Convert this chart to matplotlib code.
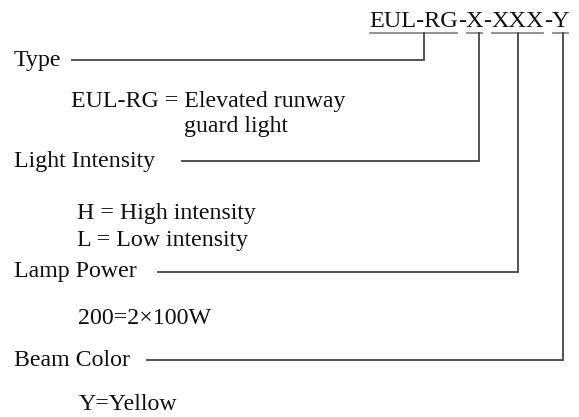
import matplotlib.pyplot as plt

# code segments of the part number, and which of them get a leader line
code_parts = ["EUL-RG", "-", "X", "-", "XXX", "-", "Y"]
field_parts = [0, 2, 4, 6]
field_titles = ["Type", "Light Intensity", "Lamp Power", "Beam Color"]
field_notes = [
    ["EUL-RG = Elevated runway", "guard light"],
    ["H = High intensity", "L = Low intensity"],
    ["200=2\u00d7100W"],
    ["Y=Yellow"],
]

# layout (pixels)
W, H = 579, 417
title_y = [60, 161, 272, 360]
title_x = 14
note_x = [[71, 184], [77, 77], [78], [79]]
note_y = [[101, 126], [213, 240], [318], [405]]
line_start = [72, 182, 158, 147]
anchor_frac = [0.62, 0.78, 0.5, 0.62]
code_x, code_base, ul_y = 369, 27, 33
line_col = "#444444"

plt.rcParams['font.family'] = ['Liberation Serif', 'DejaVu Serif']

fig = plt.figure(figsize=(W / 100, H / 100), dpi=100)
ax = fig.add_axes([0, 0, 1, 1])
ax.set_xlim(0, W)
ax.set_ylim(H, 0)
ax.axis('off')

r = fig.canvas.get_renderer()
inv = ax.transData.inverted()

# part number, drawn piece by piece so each piece can be measured
x = code_x
spans = []
for p in code_parts:
    t = ax.text(x, code_base, p, fontsize=17.5, va='baseline', ha='left', color='#111111')
    bb = t.get_window_extent(renderer=r)
    x0 = inv.transform((bb.x0, bb.y0))[0]
    x1 = inv.transform((bb.x1, bb.y0))[0]
    spans.append((x0, x1))
    x = x1

for i, k in enumerate(field_parts):
    x0, x1 = spans[k]
    ax.plot([x0 + 1, x1 - 1], [ul_y, ul_y], color="#8a8a8a", lw=1.3)
    ax_x = x0 + anchor_frac[i] * (x1 - x0)
    ax.plot([line_start[i], ax_x, ax_x], [title_y[i], title_y[i], ul_y],
            color=line_col, lw=1.3, solid_joinstyle='miter')

    ax.text(title_x, title_y[i], field_titles[i], fontsize=17.2, va='center', ha='left',
            color='#111111')
    for j, note in enumerate(field_notes[i]):
        ax.text(note_x[i][j], note_y[i][j], note, fontsize=17.2, va='center', ha='left',
                color='#111111')

fig.savefig("out.png", dpi=100)
